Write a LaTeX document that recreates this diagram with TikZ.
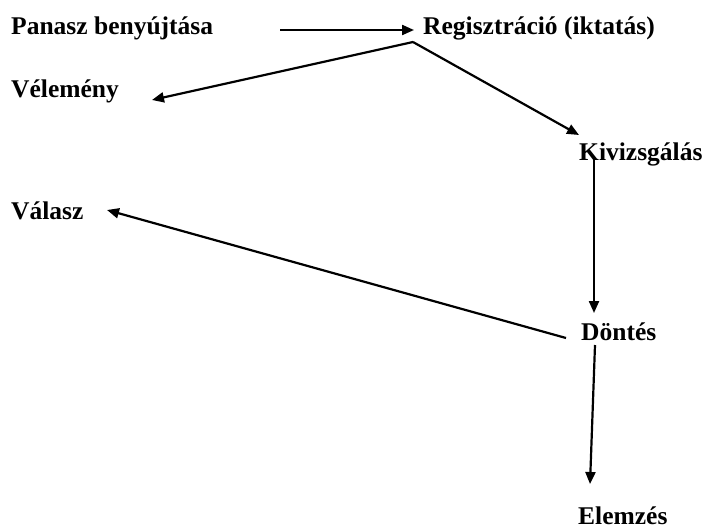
\documentclass[tikz,border=0pt]{standalone}
\usepackage{fontspec}
\setmainfont{Liberation Serif}
\usetikzlibrary{arrows.meta}
\begin{document}
\begin{tikzpicture}[x=1pt,y=-1pt,
  lbl/.style={anchor=base west,inner sep=0pt,font=\bfseries\fontsize{25.5}{30}\selectfont},
  conn/.style={line width=2.2pt,-{Triangle[length=12pt,width=10pt]}}]
\useasboundingbox[fill=white] (0,0) rectangle (704,528);
\node[lbl] (panasz) at (11,34) {Panasz benyújtása};
\node[lbl] (reg) at (423,34) {Regisztráció (iktatás)};
\node[lbl] (vel) at (11,97) {Vélemény};
\node[lbl] (val) at (11,219) {Válasz};
\node[lbl] (kiv) at (579,160) {Kivizsgálás};
\node[lbl] (dont) at (581,340) {Döntés};
\node[lbl] (elem) at (578,524) {Elemzés};
\coordinate (p1) at (280,30);
\coordinate (p2) at (414,30);
\coordinate (r1) at (413,42);
\coordinate (v1) at (152,100);
\coordinate (k1) at (579,135);
\coordinate (k2) at (594,158);
\coordinate (d1) at (594,313);
\coordinate (d2) at (566,338);
\coordinate (a1) at (107,210);
\coordinate (d3) at (595,345);
\coordinate (e1) at (590,484);
\draw[conn] (p1) -- (p2);
\draw[conn] (r1) -- (v1);
\draw[conn] (r1) -- (k1);
\draw[conn] (k2) -- (d1);
\draw[conn] (d2) -- (a1);
\draw[conn] (d3) -- (e1);
\end{tikzpicture}
\end{document}
